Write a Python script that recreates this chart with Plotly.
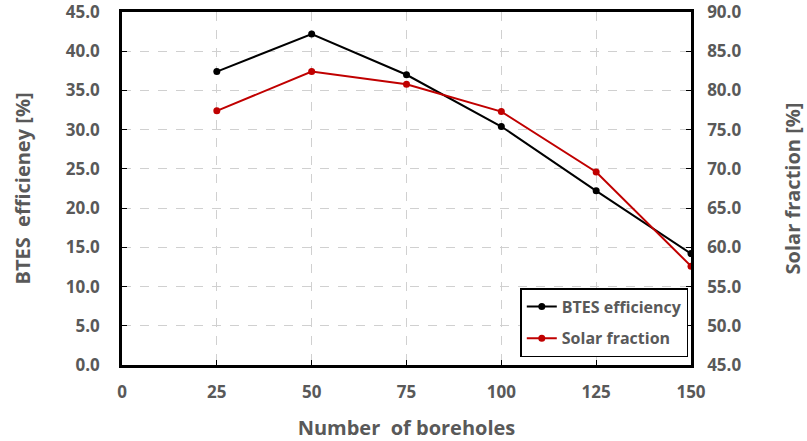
import plotly.graph_objects as go

boreholes = [25, 50, 75, 100, 125, 150]
btes_efficiency = [37.4, 42.2, 37.0, 30.4, 22.2, 14.2]
solar_fraction = [77.4, 82.4, 80.8, 77.3, 69.6, 57.6]
x_ticks = [0, 25, 50, 75, 100, 125, 150]

grey = "#595959"
font_fam = "Open Sans"

fig = go.Figure()
fig.add_trace(go.Scatter(x=boreholes, y=btes_efficiency, mode="lines+markers",
                         name="BTES efficiency", legendgroup="a",
                         line=dict(color="black", width=2),
                         marker=dict(color="black", size=7)))
fig.add_trace(go.Scatter(x=boreholes, y=solar_fraction, mode="lines+markers",
                         name="Solar fraction", yaxis="y2", legendgroup="b",
                         line=dict(color="#C00000", width=2),
                         marker=dict(color="#C00000", size=7)))

fig.update_layout(
    width=807, height=441,
    margin=dict(l=122, r=116, t=12, b=76, autoexpand=False),
    plot_bgcolor="white", paper_bgcolor="white",
    font=dict(family=font_fam, color=grey),
    showlegend=True,
    legend=dict(x=0.70, y=0.218, xanchor="left", yanchor="top",
                bordercolor="black", borderwidth=1.5, bgcolor="white",
                font=dict(size=16, color=grey, family=font_fam, weight="bold"),
                tracegroupgap=8),
    xaxis=dict(range=[0, 150], tickvals=x_ticks, ticktext=[str(v) for v in x_ticks],
               showline=True, linecolor="black", linewidth=2.5, mirror=True,
               ticks="inside", ticklen=5, tickcolor="black",
               showgrid=True, gridcolor="#D0D0D0", griddash="dash", gridwidth=1,
               zeroline=False, automargin=False, ticklabeloverflow="allow",
               ticklabelstandoff=10,
               tickfont=dict(size=17, color=grey, weight="bold"),
               title=dict(text="Number  of boreholes", standoff=20,
                          font=dict(size=20, color=grey, weight="bold"))),
    yaxis=dict(range=[0, 45], dtick=5, tickformat=".1f",
               showline=True, linecolor="black", linewidth=2.5, mirror=True,
               ticks="inside", ticklen=5, tickcolor="black",
               showgrid=True, gridcolor="#D0D0D0", griddash="dash", gridwidth=1,
               zeroline=False, automargin=False, ticklabeloverflow="allow",
               ticklabelstandoff=16,
               tickfont=dict(size=17, color=grey, weight="bold"),
               title=dict(text="BTES  efficieney [%]", standoff=30,
                          font=dict(size=20, color=grey, weight="bold"))),
    yaxis2=dict(range=[45, 90], dtick=5, tickformat=".1f", overlaying="y", side="right",
                showline=True, linecolor="black", linewidth=2.5,
                ticks="inside", ticklen=5, tickcolor="black",
                showgrid=False, zeroline=False, automargin=False,
                ticklabeloverflow="allow", ticklabelstandoff=10,
                tickfont=dict(size=17, color=grey, weight="bold"),
                title=dict(text="Solar fraction [%]", standoff=46,
                           font=dict(size=20, color=grey, weight="bold"))),
)

fig.write_html("out.html", config={"displayModeBar": False},
               post_script="document.body.style.margin='0';document.body.style.padding='0';")
